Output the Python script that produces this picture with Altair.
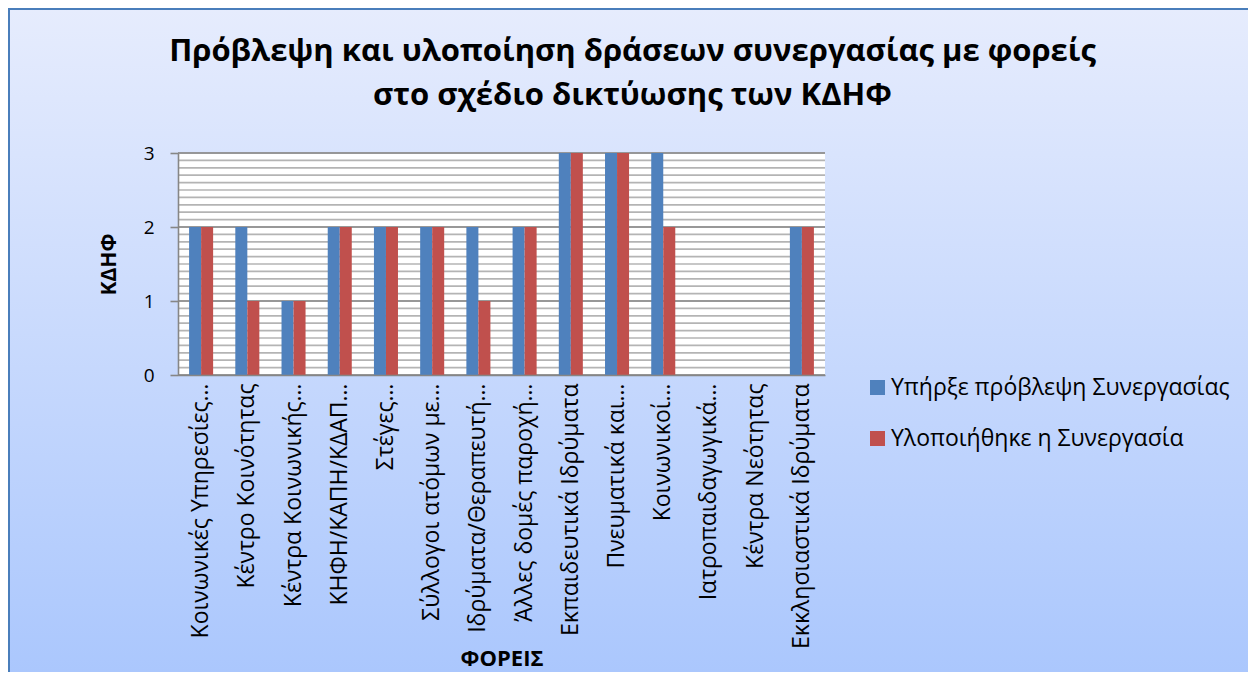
import altair as alt
import pandas as pd

categories = [
    "Κοινωνικές Υπηρεσίες…",
    "Κέντρο Κοινότητας",
    "Κέντρα Κοινωνικής…",
    "ΚΗΦΗ/ΚΑΠΗ/ΚΔΑΠ…",
    "Στέγες…",
    "Σύλλογοι ατόμων με…",
    "Ιδρύματα/Θεραπευτή…",
    "Άλλες δομές παροχή…",
    "Εκπαιδευτικά Ιδρύματα",
    "Πνευματικά και…",
    "Κοινωνικοί…",
    "Ιατροπαιδαγωγικά…",
    "Κέντρα Νεότητας",
    "Εκκλησιαστικά Ιδρύματα",
]
series_names = ["Υπήρξε πρόβλεψη Συνεργασίας", "Υλοποιήθηκε η Συνεργασία"]
planned = [2, 2, 1, 2, 2, 2, 2, 2, 3, 3, 3, 0, 0, 2]
implemented = [2, 1, 1, 2, 2, 2, 1, 2, 3, 3, 2, 0, 0, 2]
colors = ["#4f81bd", "#c0504d"]
major_ticks = [0, 1, 2, 3]
minor_ticks = [i / 10 for i in range(31)]

rows = []
for c, p, r in zip(categories, planned, implemented):
    rows.append({"cat": c, "series": series_names[0], "value": p})
    rows.append({"cat": c, "series": series_names[1], "value": r})
df = pd.DataFrame(rows)

W, H = 647, 222
PL, PT = 170, 145
TOTAL_W, TOTAL_H = 1240, 664
PR = TOTAL_W - PL - W
PB = TOTAL_H - PT - H

FONT = "Open Sans"
yscale = alt.Scale(domain=[0, 3], nice=False, zero=True)

y_axis = alt.Axis(
    title="ΚΔΗΦ",
    values=major_ticks,
    format="d",
    grid=False,
    labelFont=FONT,
    labelFontSize=19,
    labelColor="#000000",
    labelPadding=16,
    tickSize=8,
    tickColor="#868686",
    tickWidth=1.6,
    domainColor="#868686",
    domainWidth=1.6,
    titleFont=FONT,
    titleFontSize=21,
    titleFontWeight="bold",
    titleColor="#000000",
    titlePadding=24,
    zindex=2,
)

gradient = alt.Gradient(
    gradient="linear",
    stops=[alt.GradientStop(color="#e6ecfd", offset=0),
           alt.GradientStop(color="#a9c6fd", offset=1)],
    x1=0, x2=0, y1=0, y2=1,
)

one = pd.DataFrame({"k": [0]})
bg = alt.Chart(one).mark_rect(fill=gradient, stroke="#4a7ebb", strokeWidth=2).encode(
    x=alt.value(-169), x2=alt.value(W + PR + 20),
    y=alt.value(-144), y2=alt.value(H + PB + 20),
)
plotbg = alt.Chart(one).mark_rect(fill="white").encode(
    x=alt.value(0), x2=alt.value(W), y=alt.value(0), y2=alt.value(H),
)

minor = alt.Chart(pd.DataFrame({"value": minor_ticks})).mark_rule(
    color="#b4b4b4", strokeWidth=1.7
).encode(
    y=alt.Y("value:Q", scale=yscale, axis=y_axis),
    x=alt.value(0), x2=alt.value(W),
)
major = alt.Chart(pd.DataFrame({"value": major_ticks})).mark_rule(
    color="#888888", strokeWidth=1.7
).encode(
    y=alt.Y("value:Q", scale=yscale, axis=y_axis),
    x=alt.value(0), x2=alt.value(W),
)

bars = alt.Chart(df).mark_bar().encode(
    x=alt.X(
        "cat:N",
        sort=categories,
        scale=alt.Scale(paddingInner=0.48, paddingOuter=0.24),
        axis=alt.Axis(
            title="ΦΟΡΕΙΣ",
            labelAngle=-90,
            labelFont=FONT,
            labelFontSize=23,
            labelColor="#000000",
            labelPadding=8,
            labelLimit=400,
            ticks=False,
            domainColor="#868686",
            domainWidth=1.6,
            titleFont=FONT,
            titleFontSize=22,
            titleFontWeight="bold",
            titleColor="#000000",
            titleY=290,
            titleBaseline="alphabetic",
            zindex=2,
        ),
    ),
    xOffset=alt.XOffset("series:N", sort=series_names,
                        scale=alt.Scale(paddingInner=0, paddingOuter=0)),
    y=alt.Y("value:Q", scale=yscale, axis=y_axis),
    color=alt.Color(
        "series:N",
        sort=series_names,
        scale=alt.Scale(domain=series_names, range=colors),
        legend=alt.Legend(
            title=None,
            orient="none",
            legendX=688,
            legendY=223,
            symbolType="square",
            symbolSize=225,
            symbolStrokeWidth=0,
            labelFont=FONT,
            labelFontSize=23,
            labelColor="#000000",
            labelOffset=2,
            labelLimit=500,
            rowPadding=27,
            padding=0,
            zindex=2,
        ),
    ),
)

chart = alt.layer(bg, plotbg, minor, major, bars).properties(
    width=W,
    height=H,
    autosize=alt.AutoSizeParams(type="none"),
    padding={"left": PL, "top": PT, "right": PR, "bottom": PB},
    title=alt.TitleParams(
        text=["Πρόβλεψη και υλοποίηση δράσεων συνεργασίας με φορείς",
              "στο σχέδιο δικτύωσης των ΚΔΗΦ"],
        font=FONT,
        fontSize=31,
        fontWeight="bold",
        color="#000000",
        anchor="middle",
        frame="group",
        dx=131,
        dy=134,
        offset=30,
        lineHeight=44,
        zindex=2,
    ),
).configure_view(stroke=None).configure(background="white")

chart.save("out.html", embed_options={"renderer": "svg", "actions": False})
